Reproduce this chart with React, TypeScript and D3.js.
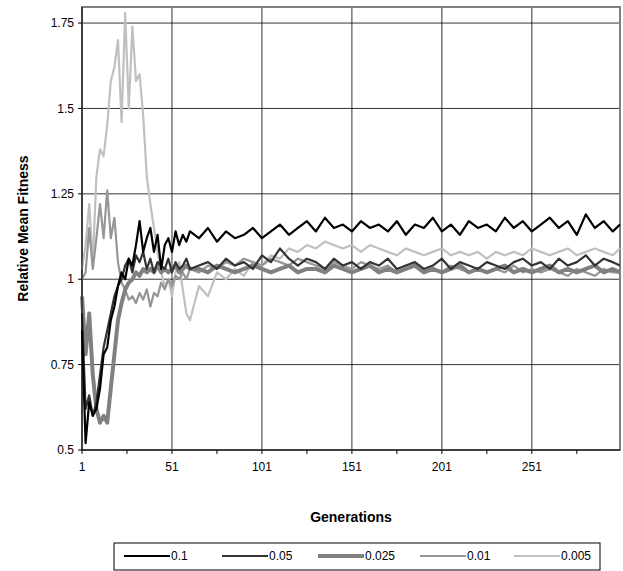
import * as d3 from "d3";

// generations sampled: 1..61 every 2, then 66..296 every 5, then 300
const GENS: number[] = [
  1, 3, 5, 7, 9, 11, 13, 15, 17, 19, 21, 23, 25, 27, 29, 31, 33, 35, 37, 39, 41, 43, 45, 47, 49, 51, 53, 55, 57, 59, 61,
  66, 71, 76, 81, 86, 91, 96, 101, 106, 111, 116, 121, 126, 131, 136, 141, 146, 151, 156, 161, 166, 171, 176, 181,
  186, 191, 196, 201, 206, 211, 216, 221, 226, 231, 236, 241, 246, 251, 256, 261, 266, 271, 276, 281, 286, 291, 296, 300,
];

const S_01 = [
  0.85, 0.52, 0.64, 0.6, 0.62, 0.68, 0.78, 0.8, 0.88, 0.92, 0.98, 1.02, 1.0, 1.06, 1.04, 1.1, 1.17, 1.08, 1.12, 1.15, 1.08, 1.13, 1.03, 1.1, 1.12, 1.08, 1.14, 1.1, 1.13, 1.11, 1.14,
  1.12, 1.15, 1.11, 1.14, 1.12, 1.13, 1.15, 1.12, 1.14, 1.16, 1.13, 1.15, 1.17, 1.14, 1.18, 1.15,
  1.16, 1.14, 1.17, 1.15, 1.16, 1.14, 1.17, 1.13, 1.16, 1.15, 1.18, 1.14, 1.16, 1.13, 1.17, 1.15,
  1.16, 1.14, 1.18, 1.15, 1.17, 1.14, 1.16, 1.18, 1.15, 1.17, 1.13, 1.19, 1.15, 1.17, 1.14, 1.16,
];
const S_005 = [
  0.9, 0.62, 0.66, 0.6, 0.64, 0.72, 0.8, 0.85, 0.9, 0.95, 0.98, 1.0, 1.04, 1.06, 1.02, 1.07, 1.05, 1.08, 1.03, 1.06, 1.02, 1.05, 1.04, 1.03, 1.06, 1.02, 1.05, 1.03, 1.04, 1.06, 1.03,
  1.04, 1.05, 1.03, 1.06, 1.04, 1.05, 1.03, 1.07, 1.05, 1.09, 1.06, 1.04, 1.06, 1.05, 1.03, 1.06,
  1.04, 1.05, 1.03, 1.05, 1.04, 1.06, 1.03, 1.04, 1.05, 1.03, 1.04, 1.06, 1.03, 1.05, 1.04, 1.03,
  1.05, 1.04, 1.03, 1.05, 1.06, 1.04, 1.05, 1.03, 1.06, 1.04, 1.05, 1.07, 1.04, 1.06, 1.05, 1.04,
];
const S_0025 = [
  0.95, 0.78, 0.9, 0.72, 0.62, 0.58, 0.6, 0.58, 0.68, 0.78, 0.88, 0.93, 0.97, 0.99, 1.0, 1.02, 1.01, 1.03, 1.02, 1.03, 1.02, 1.04, 1.02, 1.03, 1.02, 1.03, 1.04, 1.02, 1.03, 1.04, 1.03,
  1.03, 1.02, 1.04, 1.03, 1.02, 1.03, 1.04, 1.03, 1.02, 1.03, 1.04, 1.02, 1.03, 1.03, 1.02, 1.04,
  1.03, 1.02, 1.03, 1.04, 1.02, 1.03, 1.02, 1.03, 1.04, 1.02, 1.03, 1.02, 1.03, 1.04, 1.02, 1.03,
  1.02, 1.03, 1.04, 1.02, 1.03, 1.02, 1.03, 1.04, 1.02, 1.03, 1.02, 1.03, 1.04, 1.02, 1.03, 1.02,
];
const S_001 = [
  1.0, 1.02, 1.15, 1.03, 1.12, 1.22, 1.12, 1.26, 1.12, 1.18, 1.05, 0.99, 0.97, 0.94, 0.95, 0.93, 0.96, 0.94, 0.97, 0.92, 0.96, 0.95, 0.99, 0.97, 1.0, 0.98, 1.01, 1.0, 1.02, 1.0, 1.03,
  1.02, 1.04, 1.03, 1.05, 1.04, 1.06, 1.05, 1.04, 1.06, 1.05, 1.04, 1.06, 1.05, 1.04, 1.03, 1.05,
  1.04, 1.03, 1.05, 1.04, 1.03, 1.04, 1.02, 1.03, 1.04, 1.02, 1.03, 1.02, 1.04, 1.03, 1.02, 1.03,
  1.02, 1.03, 1.02, 1.04, 1.02, 1.03, 1.02, 1.03, 1.02, 1.01, 1.03, 1.02, 1.01, 1.03, 1.02, 1.02,
];
const S_0005 = [
  1.03, 1.1, 1.22, 1.05, 1.3, 1.38, 1.36, 1.45, 1.58, 1.62, 1.7, 1.46, 1.78, 1.5, 1.74, 1.58, 1.6, 1.48, 1.3, 1.22, 1.15, 1.08, 1.02, 0.98, 1.0, 0.95, 1.02, 1.05, 0.97, 0.9, 0.88,
  0.98, 0.95, 1.02, 1.0, 1.03, 1.01, 1.05, 1.04, 1.07, 1.06, 1.09, 1.08, 1.1, 1.09, 1.11, 1.1,
  1.09, 1.1, 1.08, 1.1, 1.09, 1.08, 1.07, 1.09, 1.08, 1.07, 1.08, 1.09, 1.07, 1.08, 1.07, 1.08,
  1.06, 1.08, 1.07, 1.08, 1.07, 1.09, 1.08, 1.07, 1.08, 1.09, 1.07, 1.08, 1.09, 1.08, 1.07, 1.09,
];

const SERIES = [
  { name: "0.1", values: S_01, color: "#000000", width: 2.2 },
  { name: "0.05", values: S_005, color: "#333333", width: 2.2 },
  { name: "0.025", values: S_0025, color: "#808080", width: 4 },
  { name: "0.01", values: S_001, color: "#969696", width: 2.2 },
  { name: "0.005", values: S_0005, color: "#c0c0c0", width: 2.2 },
];
// draw order: lightest first so darker lines sit on top
const DRAW_ORDER = [4, 3, 2, 1, 0];

const Y_TICKS = [0.5, 0.75, 1, 1.25, 1.5, 1.75];
const X_TICKS = [1, 51, 101, 151, 201, 251];

export default function App() {
  const W = 623, H = 571;
  const L = 82, R = 620, T = 7, B = 450;
  const x = d3.scaleLinear().domain([1, 300]).range([L, R]);
  const y = d3.scaleLinear().domain([0.5, 1.797]).range([B, T]);
  const line = d3.line<number>().x((_, i) => x(GENS[i])).y(v => y(v));
  const font = "Arial, 'Liberation Sans', sans-serif";

  const legX = [124, 222, 318, 420, 514];

  return (
    <svg width={W} height={H} style={{ position: "absolute", left: 0, top: 0 }} fontFamily={font}>
      <rect x={0} y={0} width={W} height={H} fill="white" />
      {Y_TICKS.slice(1).map(v => (
        <line key={v} x1={L} x2={R} y1={y(v)} y2={y(v)} stroke="#000" strokeWidth={0.8} />
      ))}
      {X_TICKS.slice(1).map(v => (
        <line key={v} x1={x(v)} x2={x(v)} y1={T} y2={B} stroke="#000" strokeWidth={0.8} />
      ))}
      <rect x={L} y={T} width={R - L} height={B - T} fill="none" stroke="#808080" strokeWidth={2} />
      {DRAW_ORDER.map(i => {
        const s = SERIES[i];
        return <path key={s.name} d={line(s.values) ?? ""} fill="none" stroke={s.color} strokeWidth={s.width} strokeLinejoin="round" />;
      })}
      <line x1={L} x2={L} y1={T} y2={B} stroke="#000" strokeWidth={1} />
      <line x1={L} x2={R} y1={B} y2={B} stroke="#000" strokeWidth={1} />
      {Y_TICKS.map(v => (
        <g key={v}>
          <line x1={L - 4} x2={L} y1={y(v)} y2={y(v)} stroke="#000" />
          <text x={L - 8} y={y(v)} dy="0.35em" textAnchor="end" fontSize={12}>{v}</text>
        </g>
      ))}
      {X_TICKS.map(v => (
        <g key={v}>
          <line x1={x(v)} x2={x(v)} y1={B} y2={B + 4} stroke="#000" />
          <text x={x(v)} y={B + 21} textAnchor="middle" fontSize={12}>{v}</text>
        </g>
      ))}
      {[26, 76, 126, 176, 226, 276].map(v => (
        <line key={v} x1={x(v)} x2={x(v)} y1={B} y2={B + 4} stroke="#000" />
      ))}
      <text x={(L + R) / 2} y={522} textAnchor="middle" fontSize={14} fontWeight="bold">Generations</text>
      <text transform={`translate(28,${(T + B) / 2}) rotate(-90)`} textAnchor="middle" fontSize={14} fontWeight="bold">Relative Mean Fitness</text>
      <rect x={114} y={543} width={486} height={27} fill="white" stroke="#000" strokeWidth={1} />
      {SERIES.map((s, i) => (
        <g key={s.name}>
          <line x1={legX[i]} x2={legX[i] + 46} y1={556} y2={556} stroke={s.color} strokeWidth={s.width} />
          <text x={legX[i] + 47} y={556} dy="0.35em" fontSize={12}>{s.name}</text>
        </g>
      ))}
    </svg>
  );
}
